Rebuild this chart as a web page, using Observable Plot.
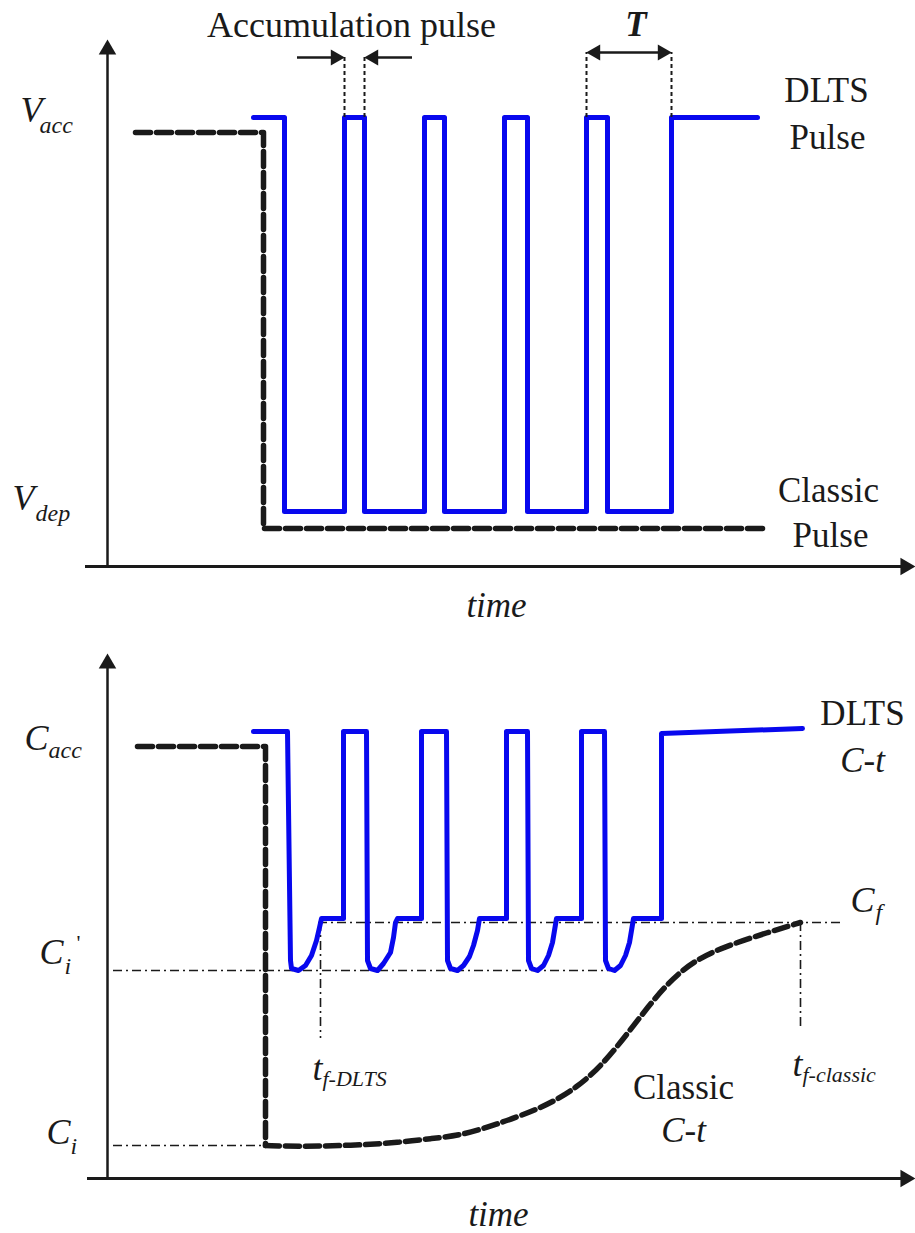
<!DOCTYPE html>
<html>
<head>
<meta charset="utf-8">
<script src="https://cdn.jsdelivr.net/npm/d3@7"></script>
<script src="https://cdn.jsdelivr.net/npm/@observablehq/plot@0.6"></script>
<style>
  body { margin: 0; background: #fff; }
  svg { display: block; }
</style>
</head>
<body>
<div id="chart"></div>
<script>
// ================= DATA (arbitrary schematic units) =================
// ---- Top panel: applied voltage vs time ----
const pulseTime = [146,177,177,237,237,257,257,317,317,337,337,397,397,420,420,479,479,500,500,564,564,650];
const pulseV    = [449,449,55,55,449,449,55,55,449,449,55,55,449,449,55,55,449,449,55,55,449,449];
const classicPulseTime = [28,156,156,655];
const classicPulseV    = [434,434,38,38];
const accPulseEdges = [237,257];     // accumulation pulse width
const periodEdges   = [479,564];     // period T
const vAcc = 449, vDep = 55;
const accArrowTails = [190,305];
const annotLevelAcc = 509, annotLevelT = 514;
const vAxisTop = 527, timeAxisEnd = 808, timeAxisStart = -22;

// ---- Bottom panel: capacitance vs time ----
const dltsCtTime = [146,180,
  183,184,191,198,204,209,212,214,236,236,259,
  260,263,270,276,283,286,288,290,314,314,339,
  340,343,350,356,362,366,370,372,399,399,420,
  421,424,430,436,441,445,447,449,474,474,497,
  498,501,507,513,518,522,524,526,554,554,695];
const dltsCtC = [447,447,
  218,210,208,213,223,238,251,260,260,447,447,
  218,210,208,215,226,241,256,260,260,447,447,
  218,210,208,213,222,233,248,260,260,447,447,
  218,210,208,213,223,236,248,260,260,447,447,
  218,210,208,213,223,236,248,260,260,445,450];
const classicStepTime = [30,158,158];
const classicStepC    = [432,432,33];
const classicTransTime = [158,193,243,293,323,353,386,436,470,496,520,540,560,586,620,660,693];
const classicTransC    = [33,32,33,36,40,43,53,71,91,115,145,171,195,218,233,246,256];
const cAcc = 447, cF = 256, cIprime = 208, cI = 33;
const tfDlts = 213, tfClassic = 693;
const tfDltsEnd = 140, tfClassicEnd = 150;
const cFLineStart = 211, cFLineEnd = 736, cIprimeLineEnd = 503, refLineStart = 6;
const cAxisTop = 525, cTimeAxisStart = -20;

// ================= STYLE =================
const ink = "#1a1a1a";
const blue = "#0808ee";
const serif = "Liberation Serif, Times New Roman, serif";
const dashDot = "9,4,2,4";

const zip = (xs, ys) => xs.map((x, i) => ({x, y: ys[i]}));

function head(x, y, angle, dx = 0, dy = 0, r = 6.5) {
  return Plot.dot([{x, y}], {x: "x", y: "y", symbol: "triangle", r, rotate: angle, fill: ink, stroke: "none", dx, dy});
}
function label(s, opts) {
  return Plot.text([s], {text: d => d, lineAnchor: "middle", fill: ink, fontFamily: serif, fontSize: 35, ...opts});
}

const common = {
  width: 915,
  marginLeft: 107,
  marginRight: 0,
  marginTop: 0,
  style: {background: "#fff", fontFamily: serif, overflow: "visible"}
};

// ================= TOP PANEL =================
const topPanel = Plot.plot({
  ...common,
  height: 620,
  marginBottom: 54,
  x: {domain: [0, 808], axis: null},
  y: {domain: [0, 566], axis: null},
  marks: [
    Plot.ruleY([0], {x1: timeAxisStart, x2: timeAxisEnd - 8, stroke: ink, strokeWidth: 3}),
    head(timeAxisEnd, 0, 90, -10, 0),
    Plot.ruleX([0], {y1: 0, y2: vAxisTop - 8, stroke: ink, strokeWidth: 2.5}),
    head(0, vAxisTop, 0, 0, 10),
    Plot.line(zip(classicPulseTime, classicPulseV), {x: "x", y: "y", stroke: ink, strokeWidth: 5.5, strokeDasharray: "15,6"}),
    Plot.line(zip(pulseTime, pulseV), {x: "x", y: "y", stroke: blue, strokeWidth: 5, strokeLinejoin: "round"}),
    Plot.ruleX(accPulseEdges, {y1: vAcc, y2: annotLevelAcc, stroke: ink, strokeWidth: 2, strokeDasharray: "4,3"}),
    Plot.ruleY([annotLevelAcc], {x1: accArrowTails[0], x2: accPulseEdges[0] - 8, stroke: ink, strokeWidth: 2.5}),
    Plot.ruleY([annotLevelAcc], {x1: accPulseEdges[1] + 8, x2: accArrowTails[1], stroke: ink, strokeWidth: 2.5}),
    head(accPulseEdges[0], annotLevelAcc, 90, -9, 0, 6),
    head(accPulseEdges[1], annotLevelAcc, -90, 9, 0, 6),
    label("Accumulation pulse", {x: d3.mean(accPulseEdges), frameAnchor: "top", dy: 25, dx: -3, textAnchor: "middle", fontSize: 36}),
    Plot.ruleX(periodEdges, {y1: vAcc, y2: annotLevelT, stroke: ink, strokeWidth: 2, strokeDasharray: "4,3"}),
    Plot.ruleY([annotLevelT], {x1: periodEdges[0] + 8, x2: periodEdges[1] - 8, stroke: ink, strokeWidth: 2.5}),
    head(periodEdges[0], annotLevelT, -90, 9, 0, 6),
    head(periodEdges[1], annotLevelT, 90, -9, 0, 6),
    label("T", {x: d3.mean(periodEdges), frameAnchor: "top", dy: 24, dx: 7, textAnchor: "middle", fontStyle: "italic", fontWeight: "bold"}),
    label("V", {y: vAcc, frameAnchor: "left", dx: -87, dy: -7, textAnchor: "start", fontStyle: "italic", fontSize: 36}),
    label("acc", {y: vAcc, frameAnchor: "left", dx: -68, dy: 8, textAnchor: "start", fontStyle: "italic", fontSize: 24}),
    label("V", {y: vDep, frameAnchor: "left", dx: -95, dy: -13, textAnchor: "start", fontStyle: "italic", fontSize: 36}),
    label("dep", {y: vDep, frameAnchor: "left", dx: -72, dy: 2, textAnchor: "start", fontStyle: "italic", fontSize: 24}),
    label("DLTS", {x: pulseTime.at(-1), y: pulseV.at(-1), dx: 69, dy: -27, textAnchor: "middle"}),
    label("Pulse", {x: pulseTime.at(-1), y: pulseV.at(-1), dx: 70, dy: 20, textAnchor: "middle"}),
    label("Classic", {x: classicPulseTime.at(-1), y: classicPulseV.at(-1), dx: 66, dy: -38, textAnchor: "middle"}),
    label("Pulse", {x: classicPulseTime.at(-1), y: classicPulseV.at(-1), dx: 68, dy: 7, textAnchor: "middle"}),
    label("time", {frameAnchor: "bottom", dy: 39, dx: -15, textAnchor: "middle", fontStyle: "italic"})
  ]
});

// ================= BOTTOM PANEL =================
const bottomPanel = Plot.plot({
  ...common,
  height: 613,
  marginBottom: 55,
  x: {domain: [0, 808], axis: null},
  y: {domain: [0, 558], axis: null},
  marks: [
    Plot.ruleY([0], {x1: cTimeAxisStart, x2: timeAxisEnd - 8, stroke: ink, strokeWidth: 3}),
    head(timeAxisEnd, 0, 90, -10, 0),
    Plot.ruleX([0], {y1: 0, y2: cAxisTop - 8, stroke: ink, strokeWidth: 2.5}),
    head(0, cAxisTop, 0, 0, 10),
    Plot.ruleY([cF], {x1: cFLineStart, x2: cFLineEnd, stroke: ink, strokeWidth: 1.6, strokeDasharray: dashDot}),
    Plot.ruleY([cIprime], {x1: refLineStart, x2: cIprimeLineEnd, stroke: ink, strokeWidth: 1.6, strokeDasharray: dashDot}),
    Plot.ruleY([cI], {x1: refLineStart, x2: classicStepTime.at(-1), stroke: ink, strokeWidth: 1.6, strokeDasharray: dashDot}),
    Plot.ruleX([tfDlts], {y1: cF, y2: tfDltsEnd, stroke: ink, strokeWidth: 1.6, strokeDasharray: dashDot}),
    Plot.ruleX([tfClassic], {y1: cF, y2: tfClassicEnd, stroke: ink, strokeWidth: 1.6, strokeDasharray: dashDot}),
    Plot.line(zip(classicStepTime, classicStepC), {x: "x", y: "y", stroke: ink, strokeWidth: 5.5, strokeDasharray: "15,6"}),
    Plot.line(zip(classicTransTime, classicTransC), {x: "x", y: "y", stroke: ink, strokeWidth: 5.5, strokeDasharray: "14,6", curve: "basis"}),
    Plot.line(zip(dltsCtTime, dltsCtC), {x: "x", y: "y", stroke: blue, strokeWidth: 5, strokeLinejoin: "round"}),
    label("C", {y: cAcc, frameAnchor: "left", dx: -83, dy: 7, textAnchor: "start", fontStyle: "italic", fontSize: 36}),
    label("acc", {y: cAcc, frameAnchor: "left", dx: -59, dy: 19, textAnchor: "start", fontStyle: "italic", fontSize: 24}),
    label("C", {y: cIprime, frameAnchor: "left", dx: -68, dy: -18, textAnchor: "start", fontStyle: "italic", fontSize: 36}),
    label("i", {y: cIprime, frameAnchor: "left", dx: -43, dy: -4, textAnchor: "start", fontStyle: "italic", fontSize: 24}),
    label("'", {y: cIprime, frameAnchor: "left", dx: -31, dy: -28, textAnchor: "start", fontSize: 22}),
    label("C", {y: cI, frameAnchor: "left", dx: -61, dy: -13, textAnchor: "start", fontStyle: "italic", fontSize: 36}),
    label("i", {y: cI, frameAnchor: "left", dx: -37, dy: 1, textAnchor: "start", fontStyle: "italic", fontSize: 24}),
    label("C", {x: cFLineEnd, y: cF, dx: 7, dy: -22, textAnchor: "start", fontStyle: "italic", fontSize: 36}),
    label("f", {x: cFLineEnd, y: cF, dx: 32, dy: -10, textAnchor: "start", fontStyle: "italic", fontSize: 24}),
    label("t", {x: tfDlts, y: tfDltsEnd, dx: -8, dy: 30, textAnchor: "start", fontStyle: "italic", fontSize: 36}),
    label("f-DLTS", {x: tfDlts, y: tfDltsEnd, dx: 2, dy: 40, textAnchor: "start", fontStyle: "italic", fontSize: 22}),
    label("t", {x: tfClassic, y: tfClassicEnd, dx: -8, dy: 36, textAnchor: "start", fontStyle: "italic", fontSize: 36}),
    label("f-classic", {x: tfClassic, y: tfClassicEnd, dx: 2, dy: 46, textAnchor: "start", fontStyle: "italic", fontSize: 22}),
    label("DLTS", {x: dltsCtTime.at(-1), y: dltsCtC.at(-1), dx: 60, dy: -15, textAnchor: "middle"}),
    label("C-t", {x: dltsCtTime.at(-1), y: dltsCtC.at(-1), dx: 60, dy: 32, textAnchor: "middle", fontStyle: "italic"}),
    label("Classic", {x: classicTransTime[10], y: classicTransC[10], dx: 56, dy: 54, textAnchor: "middle"}),
    label("C-t", {x: classicTransTime[10], y: classicTransC[10], dx: 56, dy: 97, textAnchor: "middle", fontStyle: "italic"}),
    label("time", {frameAnchor: "bottom", dy: 36, dx: -13, textAnchor: "middle", fontStyle: "italic"})
  ]
});

document.getElementById("chart").append(topPanel, bottomPanel);
</script>
</body>
</html>
